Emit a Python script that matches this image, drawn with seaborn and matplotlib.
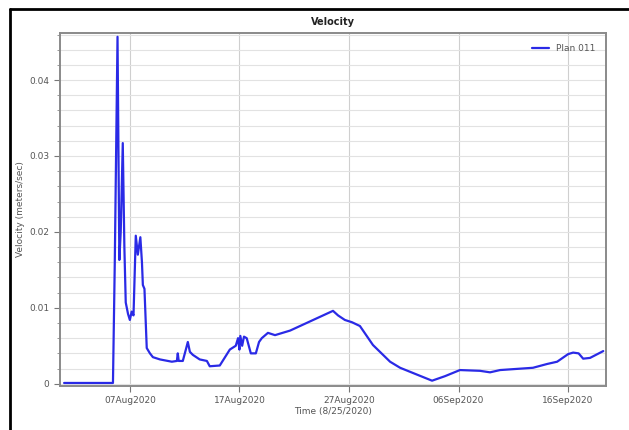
import matplotlib
matplotlib.use("Agg")
import matplotlib.pyplot as plt
import matplotlib.dates as mdates
from matplotlib.ticker import MultipleLocator, FuncFormatter
from matplotlib.lines import Line2D
import seaborn as sns
import pandas as pd

times = [
    "2020-08-01 00:00", "2020-08-05 11:00", "2020-08-05 15:00", "2020-08-05 21:00",
    "2020-08-06 01:00", "2020-08-06 04:00", "2020-08-06 08:30", "2020-08-06 12:00",
    "2020-08-06 15:00", "2020-08-06 20:00", "2020-08-07 00:00", "2020-08-07 04:00",
    "2020-08-07 08:00", "2020-08-07 13:00", "2020-08-07 17:30", "2020-08-07 23:00",
    "2020-08-08 02:30", "2020-08-08 04:30", "2020-08-08 08:00", "2020-08-08 13:00",
    "2020-08-08 20:00", "2020-08-09 02:30", "2020-08-09 18:00", "2020-08-10 20:00",
    "2020-08-11 07:00", "2020-08-11 09:00", "2020-08-11 11:00", "2020-08-11 20:00",
    "2020-08-12 02:40", "2020-08-12 07:00", "2020-08-12 11:30", "2020-08-12 18:00",
    "2020-08-13 09:00", "2020-08-14 00:45", "2020-08-14 07:00", "2020-08-15 05:00",
    "2020-08-16 03:00", "2020-08-16 16:00", "2020-08-16 21:00", "2020-08-17 00:00",
    "2020-08-17 02:00", "2020-08-17 06:00", "2020-08-17 10:00", "2020-08-17 16:00",
    "2020-08-18 01:00", "2020-08-18 12:00", "2020-08-18 19:00", "2020-08-19 01:00",
    "2020-08-19 14:30", "2020-08-20 06:00", "2020-08-21 15:00", "2020-08-25 13:00",
    "2020-08-26 00:00", "2020-08-26 15:00", "2020-08-27 06:30", "2020-08-28 00:00",
    "2020-08-29 04:30", "2020-08-30 18:00", "2020-08-31 16:00", "2020-09-02 05:00",
    "2020-09-03 14:00", "2020-09-04 18:30", "2020-09-06 03:00", "2020-09-07 23:00",
    "2020-09-08 21:00", "2020-09-09 19:00", "2020-09-12 19:00", "2020-09-14 02:00",
    "2020-09-15 00:00", "2020-09-16 00:00", "2020-09-16 11:00", "2020-09-16 23:00",
    "2020-09-17 09:00", "2020-09-18 00:00", "2020-09-19 05:00",
]
velocity = [
    0.0001, 0.0001, 0.0160, 0.0457,
    0.0163, 0.0200, 0.0317, 0.0180,
    0.0107, 0.0092, 0.0084, 0.0095,
    0.0090, 0.0195, 0.0170, 0.0193,
    0.0160, 0.0130, 0.0125, 0.0047,
    0.0040, 0.0035, 0.0032, 0.0029,
    0.0030, 0.0040, 0.0030, 0.0030,
    0.0045, 0.0055, 0.0042, 0.0038,
    0.0032, 0.0030, 0.0023, 0.0024,
    0.0045, 0.0050, 0.0060, 0.0045,
    0.0063, 0.0050, 0.0062, 0.0060,
    0.0040, 0.0040, 0.0055, 0.0060,
    0.0067, 0.0064, 0.0070, 0.0096,
    0.0090, 0.0084, 0.0081, 0.0076,
    0.0051, 0.0029, 0.0021, 0.0012,
    0.0004, 0.0010, 0.0018, 0.0017,
    0.0015, 0.0018, 0.0021, 0.0026,
    0.0029, 0.0039, 0.0041, 0.0040,
    0.0033, 0.0034, 0.0043,
]
series_name = "Plan 011"
tick_dates = ["2020-08-07", "2020-08-17", "2020-08-27", "2020-09-06", "2020-09-16"]
title = "Velocity"
xlabel = "Time (8/25/2020)"
ylabel = "Velocity (meters/sec)"

df = pd.DataFrame({"Time": pd.to_datetime(times), "Velocity": velocity, "Series": series_name})

sns.set_style("white")
plt.rcParams["font.family"] = ["DejaVu Sans"]

fig = plt.figure(figsize=(6.29, 4.30), dpi=100)
ax = fig.add_axes([60 / 629, 1 - 386 / 430, (606 - 60) / 629, (386 - 33) / 430])

sns.lineplot(data=df, x="Time", y="Velocity", hue="Series", palette=["#2a2ae6"],
             linewidth=1.6, ax=ax)

ax.set_xlim(pd.Timestamp("2020-07-31 15:00"), pd.Timestamp("2020-09-19 11:00"))
ax.set_ylim(-0.0003, 0.0462)

ax.xaxis.set_major_locator(matplotlib.ticker.FixedLocator(mdates.date2num(pd.to_datetime(tick_dates))))
ax.xaxis.set_major_formatter(mdates.DateFormatter("%d%b%Y"))
ax.yaxis.set_major_locator(MultipleLocator(0.01))
ax.yaxis.set_minor_locator(MultipleLocator(0.002))
ax.yaxis.set_major_formatter(FuncFormatter(lambda v, p: "0" if abs(v) < 1e-9 else f"{v:g}"))

ax.grid(True, which="major", axis="x", color="#cfcfcf", linewidth=0.8)
ax.grid(True, which="both", axis="y", color="#e2e2e2", linewidth=0.8)
ax.set_axisbelow(True)

ax.tick_params(axis="both", which="major", labelsize=6.5, labelcolor="#555555",
               length=4, width=0.8, color="#777777", direction="out")
ax.tick_params(axis="y", which="minor", length=2.5, width=0.6, color="#888888", direction="out")
ax.tick_params(axis="x", bottom=True)
ax.tick_params(axis="y", left=True, which="both")

for s in ax.spines.values():
    s.set_color("#8a8a8a")
    s.set_linewidth(1.4)

ax.set_title(title, fontsize=7, fontweight="bold", color="#222222", pad=6)
ax.set_xlabel(xlabel, fontsize=6.5, color="#555555", labelpad=1)
ax.set_ylabel(ylabel, fontsize=6.5, color="#555555", labelpad=3)

leg = ax.legend(loc="upper right", frameon=False, fontsize=6.5, handlelength=1.8,
                borderaxespad=0.8, labelcolor="#555555")

# outer window frame
fig.add_artist(Line2D([10 / 629, 10 / 629], [0, 1 - 9 / 430], transform=fig.transFigure,
                      color="black", linewidth=2))
fig.add_artist(Line2D([10 / 629, 1], [1 - 9 / 430, 1 - 9 / 430], transform=fig.transFigure,
                      color="black", linewidth=2))

fig.savefig("out.png", dpi=100)
